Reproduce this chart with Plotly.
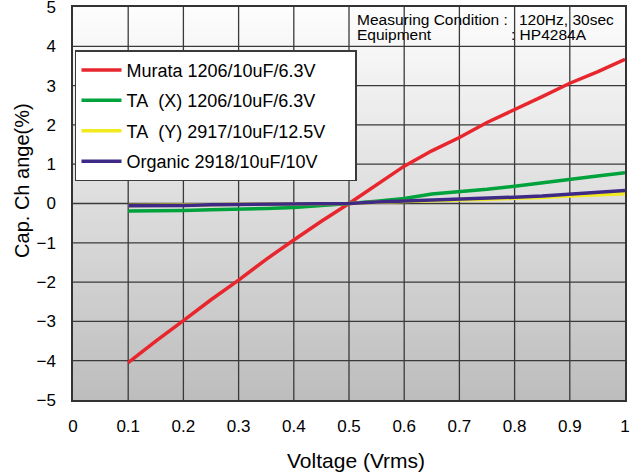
import plotly.graph_objects as go

voltage = [0.1, 0.15, 0.2, 0.25, 0.3, 0.35, 0.4, 0.45, 0.5, 0.55,
           0.6, 0.65, 0.7, 0.75, 0.8, 0.85, 0.9, 0.95, 1.0]
murata = [-4.05, -3.5, -2.98, -2.45, -1.95, -1.42, -0.93, -0.45, 0.0, 0.48,
          0.95, 1.34, 1.68, 2.06, 2.38, 2.72, 3.06, 3.35, 3.67]
ta_x = [-0.19, -0.19, -0.18, -0.16, -0.15, -0.13, -0.10, -0.06, 0.0, 0.06,
        0.13, 0.24, 0.29, 0.36, 0.44, 0.53, 0.63, 0.70, 0.78]
ta_y = [-0.05, -0.05, -0.04, -0.03, -0.02, -0.02, -0.01, 0.0, 0.0, 0.03,
        0.05, 0.06, 0.08, 0.10, 0.13, 0.15, 0.19, 0.22, 0.25]
organic = [-0.06, -0.06, -0.05, -0.03, -0.02, -0.02, -0.02, -0.01, 0.0, 0.04,
           0.06, 0.08, 0.10, 0.12, 0.16, 0.19, 0.24, 0.28, 0.33]

series_names = ["Murata 1206/10uF/6.3V", "TA\u00a0 (X) 1206/10uF/6.3V",
                "TA\u00a0 (Y) 2917/10uF/12.5V" + "\u00a0" * 5, "Organic 2918/10uF/10V"]
series_values = [murata, ta_x, ta_y, organic]
series_colors = ["#e8262d", "#00a23b", "#f2ea1f", "#3e2a86"]

x_ticks = [0, 0.1, 0.2, 0.3, 0.4, 0.5, 0.6, 0.7, 0.8, 0.9, 1]
x_tick_labels = ["0", "0.1", "0.2", "0.3", "0.4", "0.5", "0.6", "0.7", "0.8", "0.9", "1"]
y_ticks = [-5, -4, -3, -2, -1, 0, 1, 2, 3, 4, 5]
x_range = [0, 1]
y_range = [-5, 5]

FONT = "Arial, Liberation Sans, sans-serif"
GRID = "#3a3a3a"

fig = go.Figure()
for i, (name, vals, col) in enumerate(zip(series_names, series_values, series_colors)):
    fig.add_trace(go.Scatter(x=voltage, y=vals, mode="lines", name=name,
                             legendgroup=f"g{i}",
                             line=dict(color=col, width=3.5)))

# gradient background strips
n = 80
top = (253, 253, 253)
bot = (189, 189, 189)
span = y_range[1] - y_range[0]
shapes = []
for k in range(n):
    t = (k + 0.5) / n
    c = tuple(round(bot[j] + (top[j] - bot[j]) * t) for j in range(3))
    shapes.append(dict(type="rect", xref="x", yref="y",
                       x0=x_range[0], x1=x_range[1],
                       y0=y_range[0] + span * k / n,
                       y1=min(y_range[1], y_range[0] + span * (k + 1) / n + 0.02),
                       fillcolor=f"rgb{c}", line=dict(width=0), layer="below"))

# grid lines at the tick positions, above the gradient and below the traces
for xv in x_ticks[1:-1]:
    shapes.append(dict(type="line", xref="x", yref="y", x0=xv, x1=xv,
                       y0=y_range[0], y1=y_range[1],
                       line=dict(color=GRID, width=1.3), layer="between"))
for yv in y_ticks[1:-1]:
    shapes.append(dict(type="line", xref="x", yref="y", x0=x_range[0], x1=x_range[1],
                       y0=yv, y1=yv,
                       line=dict(color=GRID, width=1.3), layer="between"))

annotations = [
    dict(text="Measuring Condition :", x=0.513, y=0.967, xanchor="left", yanchor="middle"),
    dict(text="120Hz, 30sec", x=0.806, y=0.967, xanchor="left", yanchor="middle"),
    dict(text="Equipment", x=0.513, y=0.930, xanchor="left", yanchor="middle"),
    dict(text=": HP4284A", x=0.792, y=0.930, xanchor="left", yanchor="middle"),
]
for a in annotations:
    a.update(xref="paper", yref="paper", showarrow=False, borderpad=0,
             font=dict(family=FONT, size=15.5, color="#000"))

annotations.append(dict(text="Cap. Ch ange(%)", xref="paper", yref="paper",
                        x=-0.0924, y=0.560, xanchor="center", yanchor="middle",
                        textangle=-90, showarrow=False,
                        font=dict(family=FONT, size=20, color="#000")))
annotations.append(dict(text="Voltage (Vrms)", xref="paper", yref="paper",
                        x=0.512, y=-0.1527, xanchor="center", yanchor="middle",
                        showarrow=False,
                        font=dict(family=FONT, size=21, color="#000")))

fig.update_layout(
    width=632, height=473,
    margin=dict(l=73, r=7, t=7, b=73, autoexpand=False),
    paper_bgcolor="white",
    plot_bgcolor="rgba(0,0,0,0)",
    shapes=shapes,
    annotations=annotations,
    font=dict(family=FONT, size=17, color="#000"),
    showlegend=True,
    legend=dict(x=0.0036, y=0.890, xanchor="left", yanchor="top",
                bgcolor="white", bordercolor="#3a3a3a", borderwidth=1.5,
                font=dict(family=FONT, size=18, color="#000"),
                itemwidth=40,
                tracegroupgap=4, traceorder="grouped"),
    xaxis=dict(range=x_range, tickvals=x_ticks, ticktext=x_tick_labels,
               showgrid=False, automargin=False,
               showline=True, linecolor="#333", linewidth=1.5, mirror=True,
               zeroline=False, ticks="", ticklabelstandoff=10,
               ticklabeloverflow="allow",
               tickfont=dict(family=FONT, size=17, color="#000")),
    yaxis=dict(range=y_range, tickvals=y_ticks,
               showgrid=False, automargin=False,
               showline=True, linecolor="#333", linewidth=1.5, mirror=True,
               zeroline=False, ticks="", ticklabelstandoff=12,
               ticklabeloverflow="allow",
               tickfont=dict(family=FONT, size=17, color="#000")),
)

fig.write_html("out.html", config={"displayModeBar": False},
               post_script="document.body.style.margin='0px';")
